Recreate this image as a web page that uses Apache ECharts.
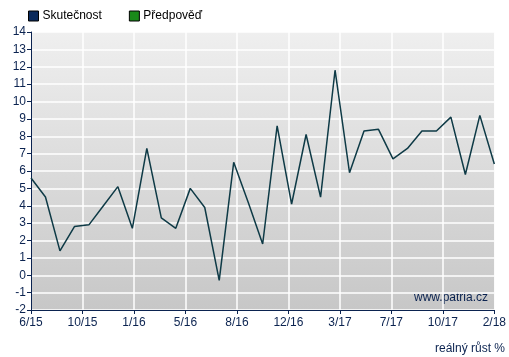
<!DOCTYPE html>
<html>
<head>
<meta charset="utf-8">
<script src="https://cdn.jsdelivr.net/npm/echarts@6/dist/echarts.min.js"></script>
<style>html,body{margin:0;padding:0;background:#fff}#c{width:509px;height:357px}</style>
</head>
<body>
<div id="c"></div>
<script>
// monthly points, 6/15 .. 2/18
const months = ['6/15','7/15','8/15','9/15','10/15','11/15','12/15','1/16','2/16','3/16','4/16','5/16','6/16','7/16','8/16','9/16','10/16','11/16','12/16','1/17','2/17','3/17','4/17','5/17','6/17','7/17','8/17','9/17','10/17','11/17','12/17','1/18','2/18'];
const actual = [5.6,4.5,1.4,2.8,2.9,4.0,5.1,2.7,7.3,3.3,2.7,5.0,3.9,-0.3,6.5,4.2,1.8,8.6,4.1,8.1,4.5,11.8,5.9,8.3,8.4,6.7,7.3,8.3,8.3,9.1,5.8,9.2,6.4];
const forecast = [];
const tickLabels = ['6/15','10/15','1/16','5/16','8/16','12/16','3/17','7/17','10/17','2/18'];
const seriesNames = ['Skutečnost','Předpověď'];
const yMin = -2, yMax = 14;

const navy = '#0b2350';
const font = 'Liberation Sans, Arial, sans-serif';
const chart = echarts.init(document.getElementById('c'));
chart.setOption({
  animation: false,
  textStyle: {fontFamily: font},
  legend: {
    left: 28, top: 10, padding: 0, itemWidth: 10, itemHeight: 10, itemGap: 27,
    icon: 'rect',
    textStyle: {color: '#000', fontSize: 12, fontFamily: font, padding: [0,0,0,-1]},
    itemStyle: {borderColor: '#000', borderWidth: 1},
    data: [
      {name: seriesNames[0], itemStyle: {color: '#0b2a5c'}},
      {name: seriesNames[1], itemStyle: {color: '#1a8a1a'}}
    ]
  },
  grid: {
    left: 31, right: 14, top: 32, bottom: 47,
    show: true, borderWidth: 0,
    backgroundColor: {type: 'linear', x: 0, y: 0, x2: 0, y2: 1,
      colorStops: [{offset: 0, color: '#efefef'}, {offset: 1, color: '#c7c7c7'}]}
  },
  xAxis: [
    {type: 'category', data: months, boundaryGap: false, show: false},
    {type: 'value', min: 0, max: tickLabels.length - 1, interval: 1, position: 'bottom',
      axisLine: {show: true, lineStyle: {color: navy, width: 1}},
      axisTick: {show: true, length: 4, lineStyle: {color: navy}},
      splitLine: {show: true, lineStyle: {color: '#ffffff', width: 1.5}},
      axisLabel: {color: navy, fontSize: 12, margin: 7, fontFamily: font,
        formatter: v => tickLabels[Math.round(v)]}
    }
  ],
  yAxis: {
    type: 'value', min: yMin, max: yMax, interval: 1,
    axisLine: {show: true, lineStyle: {color: navy, width: 1}},
    axisTick: {show: true, length: 4, lineStyle: {color: navy}},
    splitLine: {show: true, lineStyle: {color: '#ffffff', width: 1.5}},
    axisLabel: {color: navy, fontSize: 12, margin: 5, fontFamily: font}
  },
  graphic: [
    {type: 'text', right: 21, top: 292, style: {text: 'www.patria.cz', fill: navy, font: '12px ' + font}},
    {type: 'text', right: 4, top: 343, style: {text: 'reálný růst %', fill: navy, font: '12px ' + font}}
  ],
  series: [
    {name: seriesNames[0], type: 'line', xAxisIndex: 0, data: actual, showSymbol: false, symbol: 'none',
      color: '#0b2a5c', lineStyle: {color: '#0e3a46', width: 1.5}},
    {name: seriesNames[1], type: 'line', xAxisIndex: 0, data: forecast, showSymbol: false, symbol: 'none',
      color: '#1a8a1a', lineStyle: {color: '#1a8a1a', width: 1.5}}
  ]
});
</script>
</body>
</html>
